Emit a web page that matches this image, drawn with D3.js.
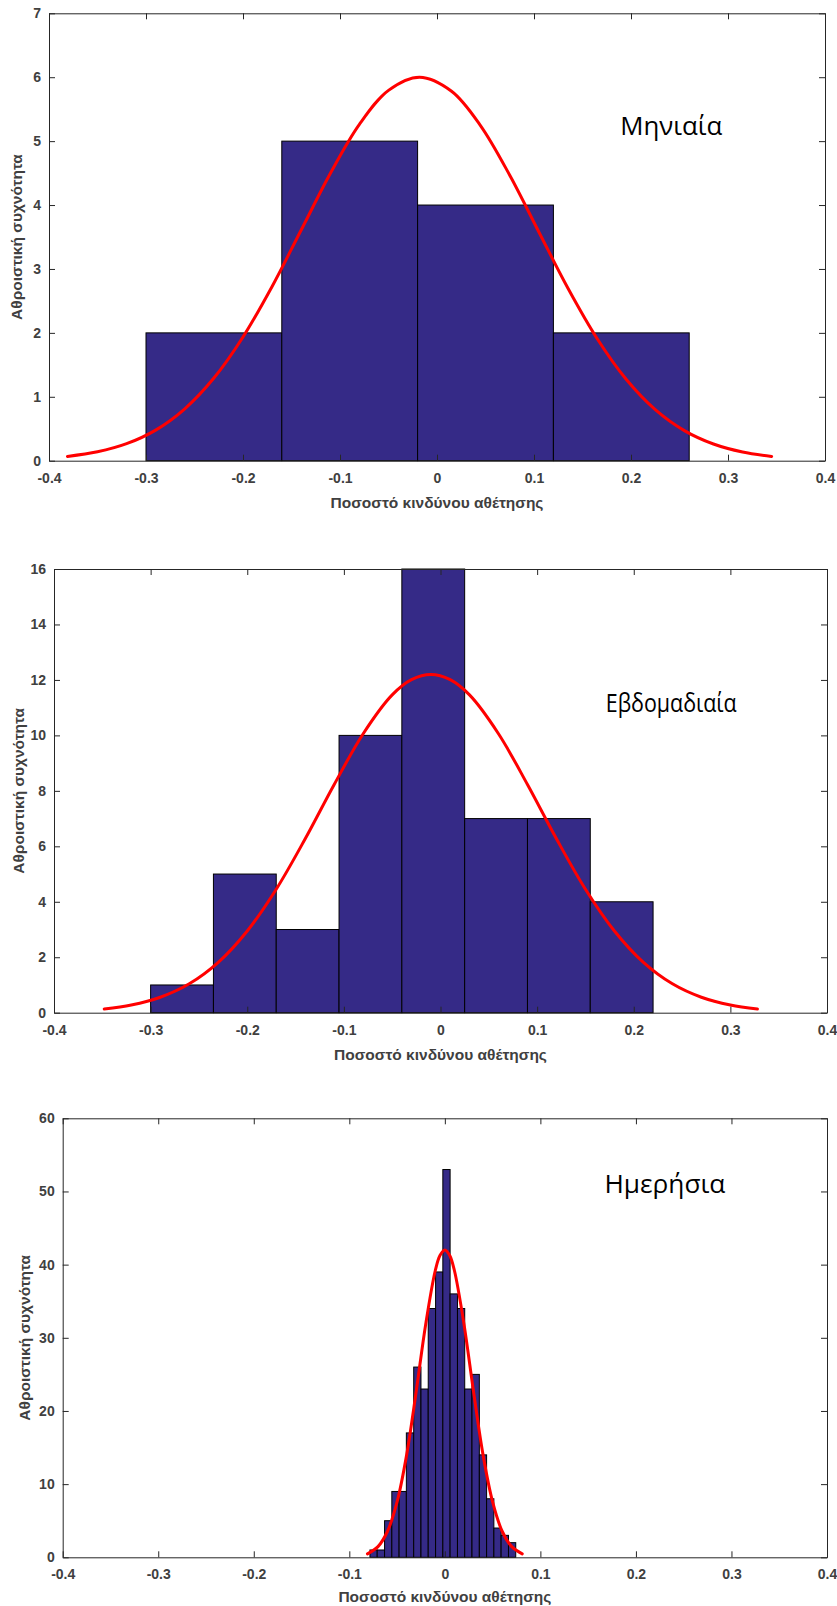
<!DOCTYPE html>
<html>
<head>
<meta charset="utf-8">
<script src="https://cdn.jsdelivr.net/npm/d3@7"></script>
<style>
  body { margin: 0; background: #fff; }
</style>
</head>
<body>
<div id="chart"></div>
<script>
// shared x ticks
const xTickValues = [-0.4, -0.3, -0.2, -0.1, 0, 0.1, 0.2, 0.3, 0.4];

// monthly (Μηνιαία)
const monthlyEdges  = [-0.30, -0.16, -0.02, 0.12, 0.26];
const monthlyCounts = [2, 5, 4, 2];
const monthlyFitX = [-0.381, -0.35, -0.32, -0.29, -0.26, -0.23, -0.20, -0.17, -0.14, -0.11, -0.08, -0.05, -0.018,
                     0.015, 0.045, 0.075, 0.105, 0.135, 0.165, 0.195, 0.225, 0.255, 0.285, 0.315, 0.345];
const monthlyFitY = [0.067, 0.139, 0.266, 0.479, 0.812, 1.293, 1.936, 2.726, 3.61, 4.494, 5.262, 5.794, 6.0,
                     5.781, 5.24, 4.466, 3.579, 2.698, 1.912, 1.274, 0.799, 0.471, 0.261, 0.136, 0.067];
const monthlyYTicks = [0, 1, 2, 3, 4, 5, 6, 7];

// weekly (Εβδομαδιαία)
const weeklyEdges  = [-0.30, -0.235, -0.17, -0.105, -0.04, 0.025, 0.09, 0.155, 0.22];
const weeklyCounts = [1, 5, 3, 10, 16, 7, 7, 4];
const weeklyFitX = [-0.348, -0.32, -0.29, -0.26, -0.23, -0.20, -0.17, -0.14, -0.11, -0.08, -0.05, -0.03, -0.01,
                    0.01, 0.03, 0.06, 0.09, 0.12, 0.15, 0.18, 0.21, 0.24, 0.27, 0.30, 0.328];
const weeklyFitY = [0.135, 0.277, 0.557, 1.042, 1.815, 2.946, 4.453, 6.272, 8.23, 10.06, 11.46, 12.01, 12.2,
                    12.01, 11.46, 10.06, 8.23, 6.272, 4.453, 2.946, 1.815, 1.042, 0.557, 0.277, 0.135];
const weeklyYTicks = [0, 2, 4, 6, 8, 10, 12, 14, 16];

// daily (Ημερήσια)
const dailyEdges = [-0.0784, -0.0708, -0.0631, -0.0555, -0.0479, -0.0403, -0.0326, -0.0250, -0.0174, -0.0097,
                    -0.0021, 0.0055, 0.0132, 0.0208, 0.0284, 0.0361, 0.0437, 0.0513, 0.0589, 0.0666, 0.0742];
const dailyCounts = [1, 1, 5, 9, 9, 17, 26, 23, 34, 39, 53, 36, 34, 23, 25, 14, 8, 4, 3, 2];
const dailyFitX = [-0.081, -0.07, -0.06, -0.05, -0.04, -0.03, -0.02, -0.01, -0.005, 0, 0.005,
                   0.01, 0.02, 0.03, 0.04, 0.05, 0.06, 0.07, 0.081];
const dailyFitY = [0.47, 1.46, 3.56, 7.56, 14.0, 22.66, 31.9, 39.2, 41.28, 42, 41.28,
                   39.2, 31.9, 22.66, 14.0, 7.56, 3.56, 1.46, 0.47];
const dailyYTicks = [0, 10, 20, 30, 40, 50, 60];

const X_LABEL = "Ποσοστό κινδύνου αθέτησης";
const Y_LABEL = "Αθροιστική συχνότητα";

const panels = [
  {edges: monthlyEdges, counts: monthlyCounts, fitX: monthlyFitX, fitY: monthlyFitY, yTicks: monthlyYTicks,
   name: "Μηνιαία", nameAt: [0.189, 5.24], nameWidth: 102,
   box: {left: 49, right: 825, top: 13.3, bottom: 460.7}, yLabelX: 17, xLabelGap: 42},
  {edges: weeklyEdges, counts: weeklyCounts, fitX: weeklyFitX, fitY: weeklyFitY, yTicks: weeklyYTicks,
   name: "Εβδομαδιαία", nameAt: [0.171, 11.17], nameWidth: 131,
   box: {left: 54, right: 827, top: 569, bottom: 1012.7}, yLabelX: 19, xLabelGap: 42},
  {edges: dailyEdges, counts: dailyCounts, fitX: dailyFitX, fitY: dailyFitY, yTicks: dailyYTicks,
   name: "Ημερήσια", nameAt: [0.167, 51.0], nameWidth: 121,
   box: {left: 62.7, right: 827, top: 1118.3, bottom: 1557.3}, yLabelX: 25, xLabelGap: 39}
];

const svg = d3.select("#chart")
  .append("svg")
    .attr("width", 837)
    .attr("height", 1606)
    .style("display", "block");

const TICK_FONT = "'Liberation Sans', Arial, sans-serif";
const AXIS_COLOR = "#262626";

const fmt = d => String(+d.toFixed(1));

function drawPanel(p) {
  const b = p.box;
  const yMax = p.yTicks[p.yTicks.length - 1];

  const x = d3.scaleLinear().domain([-0.4, 0.4]).range([b.left, b.right]);
  const y = d3.scaleLinear().domain([0, yMax]).range([b.bottom, b.top]);

  const g = svg.append("g");

  // histogram bars
  const bins = p.counts.map((c, i) => ({x0: p.edges[i], x1: p.edges[i + 1], count: c}));
  g.selectAll(".bar")
    .data(bins)
    .join("rect")
      .attr("class", "bar")
      .attr("x", d => x(d.x0))
      .attr("width", d => x(d.x1) - x(d.x0))
      .attr("y", d => y(d.count))
      .attr("height", d => y(0) - y(d.count))
      .attr("fill", "#352a87")
      .attr("stroke", "#000")
      .attr("stroke-width", 1);

  // fitted normal curve
  const pts = p.fitX.map((v, i) => [v, p.fitY[i]]);
  g.append("path")
    .datum(pts)
    .attr("fill", "none")
    .attr("stroke", "#ff0000")
    .attr("stroke-width", 3)
    .attr("stroke-linecap", "round")
    .attr("d", d3.line().x(d => x(d[0])).y(d => y(d[1])).curve(d3.curveCatmullRom));

  // axes, ticks inward on all four sides
  const styleAxis = sel => {
    sel.selectAll(".domain, .tick line").attr("stroke", AXIS_COLOR);
    sel.selectAll("text")
      .attr("font-family", TICK_FONT)
      .attr("font-weight", "bold")
      .attr("font-size", 14)
      .attr("fill", "#404040");
  };

  g.append("g")
    .attr("transform", `translate(0,${b.bottom})`)
    .call(d3.axisBottom(x).tickValues(xTickValues).tickFormat(fmt)
      .tickSizeInner(-6).tickSizeOuter(0).tickPadding(12))
    .call(styleAxis);

  g.append("g")
    .attr("transform", `translate(0,${b.top})`)
    .call(d3.axisTop(x).tickValues(xTickValues).tickFormat("")
      .tickSizeInner(-6).tickSizeOuter(0))
    .call(styleAxis);

  g.append("g")
    .attr("transform", `translate(${b.left},0)`)
    .call(d3.axisLeft(y).tickValues(p.yTicks).tickFormat(d3.format("d"))
      .tickSizeInner(-6).tickSizeOuter(0).tickPadding(8))
    .call(styleAxis);

  g.append("g")
    .attr("transform", `translate(${b.right},0)`)
    .call(d3.axisRight(y).tickValues(p.yTicks).tickFormat("")
      .tickSizeInner(-6).tickSizeOuter(0))
    .call(styleAxis);

  // axis titles
  g.append("text")
    .attr("x", (b.left + b.right) / 2)
    .attr("y", b.bottom + p.xLabelGap)
    .attr("text-anchor", "middle")
    .attr("dy", "0.35em")
    .attr("font-family", TICK_FONT)
    .attr("font-weight", "bold")
    .attr("font-size", 15.5)
    .attr("fill", "#404040")
    .text(X_LABEL);

  g.append("text")
    .attr("transform", `translate(${p.yLabelX},${(b.top + b.bottom) / 2}) rotate(-90)`)
    .attr("text-anchor", "middle")
    .attr("dy", "0.35em")
    .attr("font-family", TICK_FONT)
    .attr("font-weight", "bold")
    .attr("font-size", 15.5)
    .attr("fill", "#404040")
    .text(Y_LABEL);

  // frequency name inside the plot
  g.append("text")
    .attr("x", x(p.nameAt[0]))
    .attr("y", y(p.nameAt[1]))
    .attr("dy", "0.35em")
    .attr("font-family", "'Open Sans', 'Noto Sans', sans-serif")
    .attr("font-size", 25)
    .attr("textLength", p.nameWidth)
    .attr("lengthAdjust", "spacingAndGlyphs")
    .attr("fill", "#000")
    .text(p.name);
}

panels.forEach(drawPanel);
</script>
</body>
</html>
